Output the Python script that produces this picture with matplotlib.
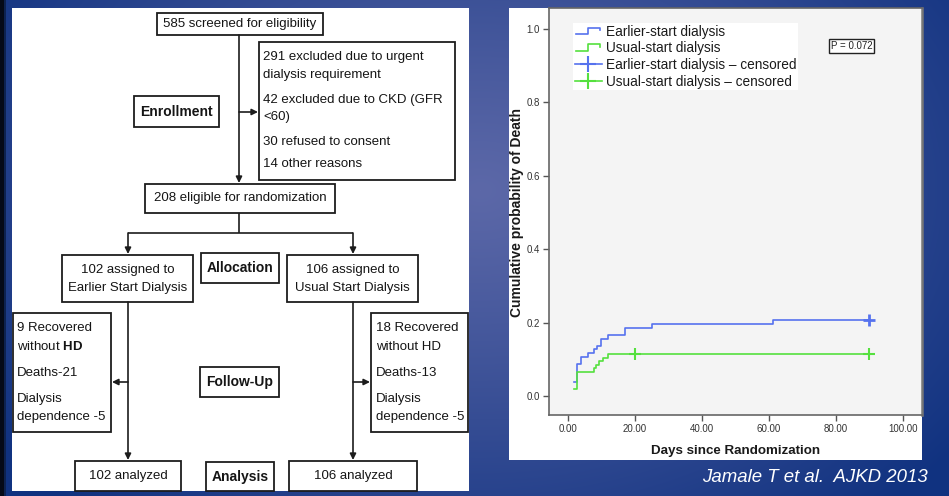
import numpy as np
import matplotlib
matplotlib.use('Agg')
import matplotlib.pyplot as plt
from matplotlib.patches import Rectangle
from matplotlib.lines import Line2D
from matplotlib.legend_handler import HandlerBase

plt.rcParams['font.family'] = ['Liberation Sans', 'DejaVu Sans']
plt.rcParams['mathtext.fontset'] = 'custom'
plt.rcParams['mathtext.rm'] = 'Liberation Sans'
plt.rcParams['mathtext.bf'] = 'Liberation Sans:bold'

# ---------------- data ----------------
earlier_days = [1.8, 2.7, 3.8, 5.9, 7.7, 8.7, 9.9, 11.8, 16.9, 25.1, 61.2, 90.0]
earlier_cum = [0.039, 0.088, 0.106, 0.117, 0.127, 0.136, 0.156, 0.166, 0.186, 0.197, 0.206, 0.206]
usual_days = [1.8, 2.7, 7.6, 8.4, 9.2, 10.4, 11.8, 90.0]
usual_cum = [0.019, 0.066, 0.075, 0.085, 0.094, 0.104, 0.113, 0.113]
earlier_censored = [90.0]
usual_censored = [19.9, 90.0]
series_labels = ['Earlier-start dialysis', 'Usual-start dialysis',
                 'Earlier-start dialysis \u2013 censored', 'Usual-start dialysis \u2013 censored']
x_ticks = [0, 20, 40, 60, 80, 100]
y_ticks = [0.0, 0.2, 0.4, 0.6, 0.8, 1.0]
p_value_text = 'P = 0.072'

screened = '585 screened for eligibility'
excluded_lines = ['291 excluded due to urgent', 'dialysis requirement',
                  '42 excluded due to CKD (GFR', '<60)',
                  '30 refused to consent', '14 other reasons']
eligible = '208 eligible for randomization'
arm_left = ['102 assigned to', 'Earlier Start Dialysis']
arm_right = ['106 assigned to', 'Usual Start Dialysis']
follow_left = ['9 Recovered', r'without $\mathbf{HD}$', 'Deaths-21', 'Dialysis', 'dependence -5']
follow_right = ['18 Recovered', 'without HD', 'Deaths-13', 'Dialysis', 'dependence -5']
analyzed_left = '102 analyzed'
analyzed_right = '106 analyzed'
stage_labels = ['Enrollment', 'Allocation', 'Follow-Up', 'Analysis']
citation = 'Jamale T et al.  AJKD 2013'

BLUE = '#5672ee'
GREEN = '#55e03e'

W, H = 949, 496
fig = plt.figure(figsize=(W / 100, H / 100), dpi=100)

# ---------------- background / slide ----------------
bg = fig.add_axes([0, 0, 1, 1])
bg.set_xlim(0, W)
bg.set_ylim(H, 0)
bg.axis('off')
yy, xx = np.mgrid[0:H, 0:W]
d = np.clip(np.sqrt(((xx - 480) / 600.0) ** 2 + ((yy - 190) / 430.0) ** 2), 0, 1)
c_center = np.array([92, 104, 168]) / 255.0
c_edge = np.array([16, 50, 128]) / 255.0
img = c_center + (c_edge - c_center) * (d[..., None] ** 1.1)
bg.imshow(img, extent=(0, W, H, 0), aspect='auto', zorder=0)
bg.add_patch(Rectangle((0, 0), 4, H, fc='#050a18', ec='none', zorder=1))
bg.add_patch(Rectangle((4, 0), 2.5, H, fc='#0d2250', ec='none', zorder=1))
# white panels
bg.add_patch(Rectangle((12, 8), 469 - 12, 491 - 8, fc='white', ec='none', zorder=1))
bg.add_patch(Rectangle((509, 8), 922 - 509, 460 - 8, fc='white', ec='none', zorder=1))

# ---------------- flowchart ----------------
EC = '#1c1c1c'
FS = 9.5


def box(x0, y0, x1, y1):
    bg.add_patch(Rectangle((x0, y0), x1 - x0, y1 - y0, fill=False, ec=EC, lw=1.3, zorder=3))


def arrow(x0, y0, x1, y1):
    bg.annotate('', xy=(x1, y1), xytext=(x0, y0),
                arrowprops=dict(arrowstyle='-|>', color=EC, lw=1.2, mutation_scale=9,
                                shrinkA=0, shrinkB=0), zorder=3)


def line(xs, ys):
    bg.plot(xs, ys, color=EC, lw=1.2, zorder=3, solid_capstyle='butt')


def txt(x, y, s, **kw):
    kw.setdefault('fontsize', FS)
    kw.setdefault('ha', 'center')
    kw.setdefault('va', 'center')
    kw.setdefault('color', '#151515')
    bg.text(x, y, s, zorder=4, **kw)


# screened
box(157, 13, 323, 35)
txt(240, 24, screened)
arrow(239, 35, 239, 183)
arrow(239, 112, 258, 112)
# exclusions
box(259, 42, 455, 180)
for s, y in zip(excluded_lines, [57, 75, 100, 117, 142, 164]):
    txt(263, y, s, ha='left')
# enrollment
box(134, 96, 219, 127)
txt(176.5, 111.5, stage_labels[0], fontweight='bold', fontsize=10)
# eligible
box(145, 184, 335, 213)
txt(240, 198.5, eligible)
line([239, 239], [213, 233])
line([128, 353], [233, 233])
arrow(128, 233, 128, 254)
arrow(353, 233, 353, 254)
# allocation
box(62, 255, 193, 302)
for s, y in zip(arm_left, [270, 288]):
    txt(127.5, y, s)
box(287, 255, 418, 302)
for s, y in zip(arm_right, [270, 288]):
    txt(352.5, y, s)
box(201, 253, 279, 283)
txt(240, 268, stage_labels[1], fontweight='bold', fontsize=10)
# verticals to analysis
arrow(128, 302, 128, 460)
arrow(353, 302, 353, 460)
# follow-up
box(13, 313, 111, 432)
for s, y in zip(follow_left, [328, 347, 373, 399, 417]):
    txt(17, y, s, ha='left')
box(371, 313, 468, 432)
for s, y in zip(follow_right, [328, 347, 373, 399, 417]):
    txt(376, y, s, ha='left')
arrow(128, 382, 112, 382)
arrow(353, 382, 370, 382)
box(200, 367, 279, 397)
txt(239.5, 382, stage_labels[2], fontweight='bold', fontsize=10)
# analysis
box(75, 461, 181, 491)
txt(128, 476, analyzed_left)
box(289, 461, 417, 491)
txt(353, 476, analyzed_right)
box(206, 462, 274, 491)
txt(240, 476.5, stage_labels[3], fontweight='bold', fontsize=10)

# ---------------- KM plot ----------------
L, R, T, B = 549, 922, 8, 415
ax = fig.add_axes([L / W, 1 - B / H, (R - L) / W, (B - T) / H])
ax.set_facecolor('#f4f4f4')
ax.step(earlier_days, earlier_cum, where='post', color=BLUE, lw=1.2, zorder=3)
ax.step(usual_days, usual_cum, where='post', color=GREEN, lw=1.2, zorder=4)


def level_at(days, cum, t):
    i = np.searchsorted(days, t, side='right') - 1
    return cum[i]


ax.plot(earlier_censored, [level_at(earlier_days, earlier_cum, t) for t in earlier_censored],
        ls='none', marker='+', ms=9, mew=2.0, color=BLUE, zorder=5)
ax.plot(usual_censored, [level_at(usual_days, usual_cum, t) for t in usual_censored],
        ls='none', marker='+', ms=8, mew=1.5, color=GREEN, zorder=5)

ax.set_xlim(-5.7, 105.7)
ax.set_ylim(-0.052, 1.057)
ax.set_xticks(x_ticks)
ax.set_xticklabels(['%.2f' % v for v in x_ticks])
ax.set_yticks(y_ticks)
ax.set_yticklabels(['%.1f' % v for v in y_ticks])
ax.tick_params(direction='out', length=4.5, width=1, color='#555555', labelsize=7,
               labelcolor='#333333', pad=2)
for sp in ax.spines.values():
    sp.set_color('#666666')
    sp.set_linewidth(1.2)
ax.spines['right'].set_linewidth(1.8)
ax.spines['right'].set_color('#777777')

fig.text(517 / W, 1 - 212 / H, 'Cumulative probability of Death', rotation=90,
         ha='center', va='center', fontsize=10, fontweight='bold', color='#1a1a1a')
fig.text(735.5 / W, 1 - 451 / H, 'Days since Randomization', ha='center', va='center',
         fontsize=9.6, fontweight='bold', color='#1a1a1a')

ax.text(0.812, 0.907, p_value_text, transform=ax.transAxes, fontsize=7, ha='center',
        va='center', color='#222222',
        bbox=dict(boxstyle='square,pad=0.18', fc='white', ec='#222222', lw=1))


class StepHandler(HandlerBase):
    def create_artists(self, legend, orig_handle, xdescent, ydescent, width, height,
                       fontsize, trans):
        xs = np.array([0.05, 0.5, 0.5, 0.95, 0.95]) * width - xdescent
        ys = np.array([0.15, 0.15, 0.85, 0.85, 0.55]) * height - ydescent
        ln = Line2D(xs, ys, color=orig_handle.get_color(), lw=1.2)
        ln.set_transform(trans)
        return [ln]


h1 = Line2D([], [], color=BLUE, lw=1.2)
h2 = Line2D([], [], color=GREEN, lw=1.2)
h3 = Line2D([], [], color=BLUE, lw=1.2, marker='+', ms=11, mew=1.5)
h4 = Line2D([], [], color=GREEN, lw=1.2, marker='+', ms=11, mew=1.5)
leg = ax.legend(handles=[h1, h2, h3, h4], labels=series_labels,
                handler_map={h1: StepHandler(), h2: StepHandler()},
                loc='upper left', bbox_to_anchor=(0.064, 0.963), borderaxespad=0,
                frameon=True, fancybox=False, facecolor='white', edgecolor='none',
                framealpha=1, fontsize=9.8, handlelength=2.0, handletextpad=0.3,
                labelspacing=0.2, borderpad=0.12)
for t in leg.get_texts():
    t.set_color('#1a1a1a')

fig.text(928 / W, 1 - 477 / H, citation, ha='right', va='center', fontsize=13.4,
         style='italic', color='white')

fig.savefig('out.png', dpi=100)
